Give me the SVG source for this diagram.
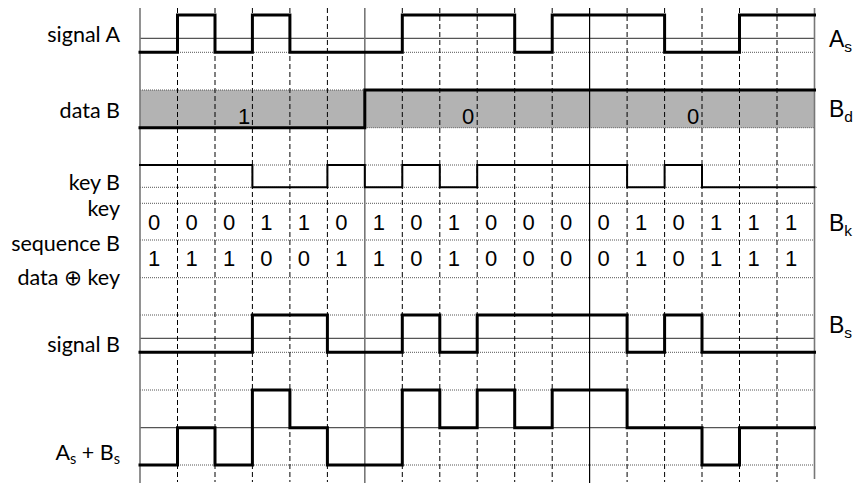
<svg xmlns="http://www.w3.org/2000/svg" width="857" height="483" viewBox="0 0 857 483">
<style>
.lbl{font-family:Lato,"DejaVu Sans",sans-serif;font-size:21.5px;fill:#000;text-anchor:end}
.rl{font-family:"Liberation Sans",Arial,sans-serif;font-size:23px;fill:#000}
.dg{font-family:"Liberation Sans",Arial,sans-serif;font-size:22px;fill:#000;text-anchor:middle}
.dash{stroke:#000;stroke-width:1;stroke-dasharray:5,3;fill:none}
.solidv{stroke:#777;stroke-width:1.6;fill:none}
.dot{stroke:#555;stroke-width:1;stroke-dasharray:1,1;fill:none}
.mid{stroke:#555;stroke-width:1.2;fill:none}
.wave{stroke:#000;stroke-width:3;fill:none;stroke-linejoin:miter;stroke-linecap:square}
.wave2{stroke:#000;stroke-width:2;fill:none;stroke-linecap:square}
</style>
<rect width="857" height="483" fill="#fff"/>
<g id="dataB-fill"><rect x="140" y="90" width="674.5" height="37.7" fill="#b3b3b3"/></g>
<g id="grid">
<path class="dot" d="M140,52.3H814.5M140,90H364.8M364.8,127.7H814.5M140,165H814.5M140,187.3H817M140,203.3H814.5M140,240H814.5M140,277.7H814.5M140,315H814.5M140,352.3H814.5M140,390H814.5M140,465H814.5"/>
<path class="mid" d="M140,38.3H814.5M140,338.3H814.5M140,427.7H814.5"/>
<path class="dash" d="M177.5,8V482M215,8V482M252.4,8V482M289.9,8V482M327.4,8V482M402.3,8V482M439.8,8V482M477.2,8V482M514.7,8V482M552.2,8V482M627.1,8V482M664.6,8V482M702,8V482M739.5,8V482M777,8V482"/>
<path class="solidv" d="M140,8V483M364.8,8V483M814.5,8V479"/>
<path stroke="#000" stroke-width="1.2" d="M589.6,8V483"/>
</g>
<g id="signalA">
<text class="lbl" x="120" y="41.5">signal A</text>
<path class="wave" d="M140,52.3H177.5V15H215V52.3H252.4V15H289.9V52.3H402.3V15H514.7V52.3H552.2V15H664.6V52.3H739.5V15H814.5"/>
<text class="rl" x="829" y="47">A<tspan font-size="15.5" dy="5">s</tspan></text>
</g>
<g id="dataB">
<text class="lbl" x="120" y="118">data B</text>
<path class="wave" d="M140,127.7H364.8V90H814.5"/>
<text class="dg" x="244" y="124">1</text>
<text class="dg" x="468" y="124">0</text>
<text class="dg" x="693" y="124">0</text>
<text class="rl" x="829" y="117">B<tspan font-size="15.5" dy="5">d</tspan></text>
</g>
<g id="keyB">
<text class="lbl" x="120" y="190">key B</text>
<path class="wave2" d="M140,165H252.4V187.3H327.4V165H364.8V187.3H402.3V165H439.8V187.3H477.2V165H627.1V187.3H664.6V165H702V187.3H814.5"/>
</g>
<g id="keySeq">
<text class="lbl" x="120" y="216">key</text>
<text class="lbl" x="120" y="250.7">sequence B</text>
<text class="dg" y="230"><tspan x="154">0</tspan><tspan x="191.5">0</tspan><tspan x="229">0</tspan><tspan x="266.4">1</tspan><tspan x="303.9">1</tspan><tspan x="341.4">0</tspan><tspan x="378.8">1</tspan><tspan x="416.3">0</tspan><tspan x="453.8">1</tspan><tspan x="491.2">0</tspan><tspan x="528.7">0</tspan><tspan x="566.2">0</tspan><tspan x="603.6">0</tspan><tspan x="641.1">1</tspan><tspan x="678.6">0</tspan><tspan x="716">1</tspan><tspan x="753.5">1</tspan><tspan x="791">1</tspan></text>
<text class="rl" x="829" y="231">B<tspan font-size="15.5" dy="5">k</tspan></text>
</g>
<g id="xor">
<text class="lbl" x="120" y="285">data ⊕ key</text>
<text class="dg" y="266"><tspan x="154">1</tspan><tspan x="191.5">1</tspan><tspan x="229">1</tspan><tspan x="266.4">0</tspan><tspan x="303.9">0</tspan><tspan x="341.4">1</tspan><tspan x="378.8">1</tspan><tspan x="416.3">0</tspan><tspan x="453.8">1</tspan><tspan x="491.2">0</tspan><tspan x="528.7">0</tspan><tspan x="566.2">0</tspan><tspan x="603.6">0</tspan><tspan x="641.1">1</tspan><tspan x="678.6">0</tspan><tspan x="716">1</tspan><tspan x="753.5">1</tspan><tspan x="791">1</tspan></text>
</g>
<g id="signalB">
<text class="lbl" x="120" y="352">signal B</text>
<path class="wave" d="M140,352.3H252.4V315H327.4V352.3H402.3V315H439.8V352.3H477.2V315H627.1V352.3H664.6V315H702V352.3H814.5"/>
<text class="rl" x="829" y="333">B<tspan font-size="15.5" dy="5">s</tspan></text>
</g>
<g id="sum">
<text class="lbl" x="120" y="460">A<tspan font-size="14.5" dy="4">s</tspan><tspan dy="-4"> + B</tspan><tspan font-size="14.5" dy="4">s</tspan></text>
<path class="wave" d="M140,465H177.5V427.7H215V465H252.4V390H289.9V427.7H327.4V465H402.3V390H439.8V427.7H477.2V390H514.7V427.7H552.2V390H627.1V427.7H702V465H739.5V427.7H814.5"/>
</g>
</svg>
